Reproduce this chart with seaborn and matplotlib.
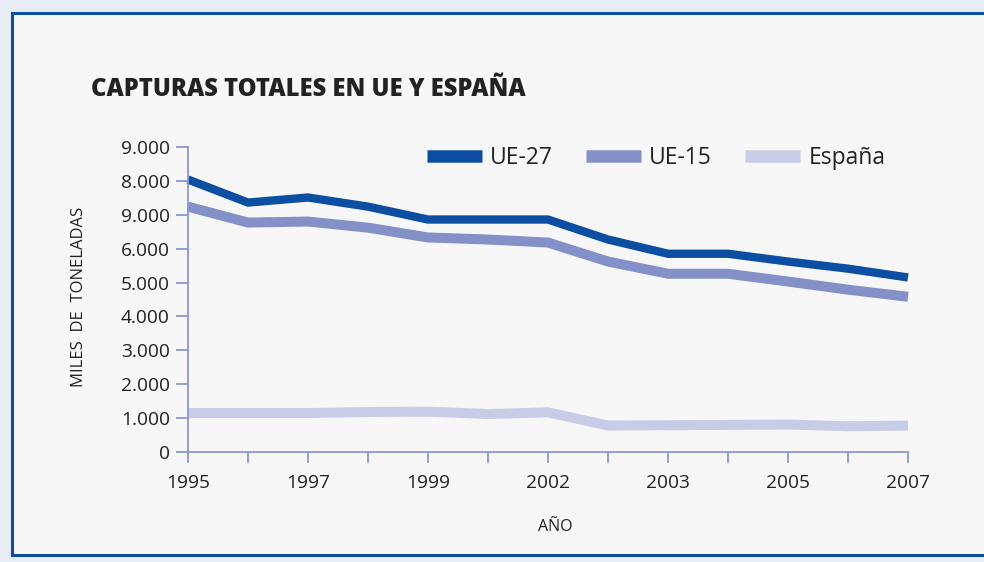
import matplotlib
matplotlib.use("Agg")
import matplotlib.pyplot as plt
import seaborn as sns
import pandas as pd
from matplotlib.patches import Rectangle
from matplotlib.lines import Line2D

# ---- data ----
years_idx = list(range(13))
tick_labels = ["1995", "", "1997", "", "1999", "", "2002", "", "2003", "", "2005", "", "2007"]
ue27 = [8040, 7360, 7510, 7240, 6860, 6860, 6860, 6270, 5850, 5850, 5620, 5410, 5150]
ue15 = [7240, 6770, 6800, 6620, 6330, 6270, 6180, 5620, 5260, 5260, 5030, 4790, 4580]
espana = [1150, 1150, 1150, 1180, 1190, 1120, 1170, 780, 790, 800, 810, 760, 780]
y_ticks = [0, 1000, 2000, 3000, 4000, 5000, 6000, 7000, 8000, 9000]
y_tick_labels = ["0", "1.000", "2.000", "3.000", "4.000", "5.000", "6.000", "9.000", "8.000", "9.000"]
series_names = ["UE-27", "UE-15", "España"]
colors = ["#0b4ea2", "#8490c8", "#c8cce6"]
widths = [6.0, 7.2, 7.2]

df = pd.DataFrame({
    "x": years_idx * 3,
    "valor": ue27 + ue15 + espana,
    "serie": [series_names[0]] * 13 + [series_names[1]] * 13 + [series_names[2]] * 13,
})

sns.set_theme(style="white")
plt.rcParams["font.family"] = ["Open Sans", "DejaVu Sans"]

W, H = 984, 562
fig = plt.figure(figsize=(W / 100, H / 100), dpi=100, facecolor="#e8edf5")
# inner panel with blue frame
fig.patches.append(Rectangle((12 / W, 1 - 555 / H), (W + 20 - 12) / W, (555 - 13) / H,
                             transform=fig.transFigure, facecolor="#f7f7f7",
                             edgecolor="#0d4ea0", linewidth=2.2, zorder=-5))

ax = fig.add_axes([188 / W, 1 - 452 / H, (908 - 188) / W, (452 - 147) / H])
ax.set_facecolor("none")
ax.set_zorder(2)

sns.lineplot(data=df, x="x", y="valor", hue="serie", palette=colors,
             hue_order=series_names, ax=ax, legend=False, sort=False)
for line, lw in zip(ax.get_lines(), widths):
    line.set_linewidth(lw)
    line.set_solid_capstyle("butt")
    line.set_solid_joinstyle("miter")
    line.set_clip_on(False)

ax.set_xlim(0, 12)
ax.set_ylim(0, 9000)
ax.set_xticks(years_idx)
ax.set_xticklabels(tick_labels)
ax.set_yticks(y_ticks)
ax.set_yticklabels(y_tick_labels)

spine_c = "#8a98d4"
for s in ["top", "right"]:
    ax.spines[s].set_visible(False)
for s in ["left", "bottom"]:
    ax.spines[s].set_color(spine_c)
    ax.spines[s].set_linewidth(1.3)
ax.tick_params(axis="both", which="both", direction="out", color=spine_c,
               width=1.3, labelcolor="#222222", labelsize=13.8,
               left=True, bottom=True)
ax.tick_params(axis="y", length=9, pad=4)
ax.tick_params(axis="x", length=8, pad=8)

ax.set_xlabel("AÑO", fontsize=11.5, color="#222222", labelpad=0)
ax.xaxis.set_label_coords((555 - 188) / (908 - 188), -(519 - 452) / (452 - 147))
ax.set_ylabel("MILES  DE  TONELADAS", fontsize=12, color="#222222")
ax.yaxis.set_label_coords(-(188 - 87) / (908 - 188), 0.51)

# legend
handles = [Line2D([0], [0], color=c, lw=9, solid_capstyle="butt") for c in colors]
leg = ax.legend(handles, series_names, ncol=3, frameon=False, fontsize=16.5,
                loc="center left", bbox_to_anchor=((427 - 188) / 720, (452 - 158) / 305),
                handlelength=2.4, handletextpad=0.35, columnspacing=1.45,
                borderaxespad=0, borderpad=0)
for t in leg.get_texts():
    t.set_color("#222222")

# title
title = fig.text(91 / W, 1 - 89 / H, "CAPTURAS TOTALES EN UE Y ESPAÑA", fontsize=17,
                 fontweight="heavy", color="#222222", va="center", ha="left")
fig.canvas.draw()
bb = title.get_window_extent()
target = 436
title.set_fontsize(17 * target / bb.width)

fig.savefig("out.png", dpi=100, facecolor=fig.get_facecolor())
